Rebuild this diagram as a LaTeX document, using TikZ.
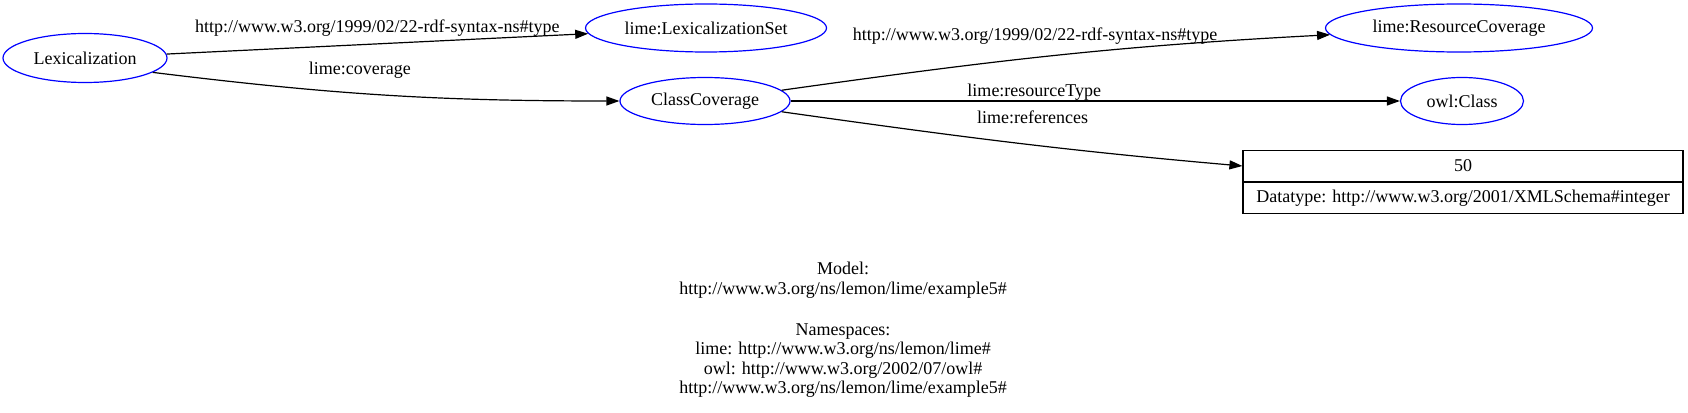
\documentclass[tikz,border=0pt]{standalone}
\usepackage{fontspec}
\setmainfont{Liberation Serif}
\usetikzlibrary{shapes.geometric, arrows.meta, positioning}

\begin{document}
\begin{tikzpicture}[
        x=1pt, y=1pt,
        >={Triangle[length=13pt,width=9pt]},
        res/.style={
            draw=blue,
            ellipse,
            line width=1.2pt,
            inner sep=0pt
        },
        lit/.style={
            draw,
            line width=1.2pt,
            minimum width=440pt,
            minimum height=31pt,
            inner sep=0pt
        },
        arr/.style={
            ->,
            line width=1.2pt
        },
        lbl/.style={
            inner sep=0pt
        },
        every node/.style={font=\fontsize{18}{20}\selectfont}
    ]
        \useasboundingbox (0,0) rectangle (1688,-412);

        \node[res, minimum width=164pt, minimum height=49pt] (lex) at (85,-58) {Lexicalization};
        \node[res, minimum width=241pt, minimum height=48pt] (lexset) at (706,-28) {lime:LexicalizationSet};
        \node[res, minimum width=170pt, minimum height=47pt] (cc) at (705,-101) {ClassCoverage};
        \node[res, minimum width=267pt, minimum height=48pt] (rescov) at (1459,-28) {lime:ResourceCoverage};
        \node[res, minimum width=123pt, minimum height=47pt] (owlclass) at (1462,-101) {owl:Class};

        \node[lit] (num) at (1463,-166) {50};
        \node[lit, below=0pt of num] (dtype) {Datatype: http://www.w3.org/2001/XMLSchema\#integer};

        \draw[arr] (lex) -- node[lbl, above=7pt] {http://www.w3.org/1999/02/22-rdf-syntax-ns\#type} (lexset);
        \draw[arr] (lex.-12) to[out=-7, in=180] node[lbl, pos=0.44, above=14pt] {lime:coverage} (cc);
        \draw[arr] (cc) to[out=8, in=183] node[lbl, pos=0.46, above=13pt] {http://www.w3.org/1999/02/22-rdf-syntax-ns\#type} (rescov);
        \draw[arr] (cc) -- node[lbl, pos=0.4, above=0pt] {lime:resourceType} (owlclass);
        \draw[arr] (cc) to[out=-8, in=175] node[lbl, pos=0.55, above=21pt] {lime:references} (num.west);

        \node[align=center, inner sep=0pt, font=\fontsize{18}{19.6}\selectfont] (model) at (843,-330) {
            Model:\\
            http://www.w3.org/ns/lemon/lime/example5\#\\[21pt]
            Namespaces:\\
            lime: http://www.w3.org/ns/lemon/lime\#\\
            owl: http://www.w3.org/2002/07/owl\#\\
            http://www.w3.org/ns/lemon/lime/example5\#
        };
    \end{tikzpicture}
\end{document}
